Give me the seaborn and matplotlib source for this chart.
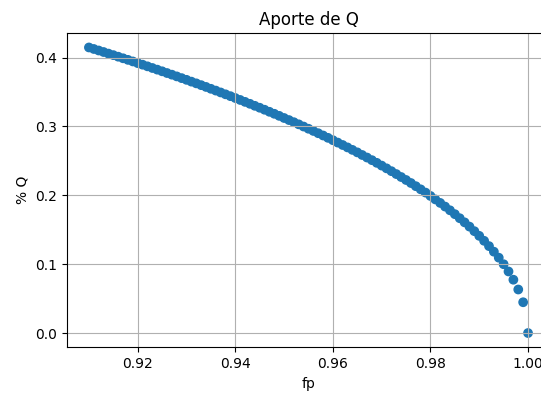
import matplotlib
matplotlib.use("Agg")
import matplotlib.pyplot as plt
import seaborn as sns
import pandas as pd

# Power factor values (x axis)
fp = [
    0.910, 0.911, 0.912, 0.913, 0.914, 0.915, 0.916, 0.917, 0.918, 0.919,
    0.920, 0.921, 0.922, 0.923, 0.924, 0.925, 0.926, 0.927, 0.928, 0.929,
    0.930, 0.931, 0.932, 0.933, 0.934, 0.935, 0.936, 0.937, 0.938, 0.939,
    0.940, 0.941, 0.942, 0.943, 0.944, 0.945, 0.946, 0.947, 0.948, 0.949,
    0.950, 0.951, 0.952, 0.953, 0.954, 0.955, 0.956, 0.957, 0.958, 0.959,
    0.960, 0.961, 0.962, 0.963, 0.964, 0.965, 0.966, 0.967, 0.968, 0.969,
    0.970, 0.971, 0.972, 0.973, 0.974, 0.975, 0.976, 0.977, 0.978, 0.979,
    0.980, 0.981, 0.982, 0.983, 0.984, 0.985, 0.986, 0.987, 0.988, 0.989,
    0.990, 0.991, 0.992, 0.993, 0.994, 0.995, 0.996, 0.997, 0.998, 0.999,
    1.000,
]

# Reactive share for each power factor
q_pct = [
    0.4146, 0.4124, 0.4102, 0.4080, 0.4057, 0.4035, 0.4012, 0.3989, 0.3966, 0.3943,
    0.3919, 0.3896, 0.3872, 0.3848, 0.3824, 0.3800, 0.3775, 0.3751, 0.3726, 0.3701,
    0.3676, 0.3650, 0.3625, 0.3599, 0.3573, 0.3546, 0.3520, 0.3493, 0.3466, 0.3439,
    0.3412, 0.3384, 0.3356, 0.3328, 0.3299, 0.3271, 0.3242, 0.3212, 0.3183, 0.3153,
    0.3122, 0.3092, 0.3061, 0.3030, 0.2998, 0.2966, 0.2934, 0.2901, 0.2868, 0.2834,
    0.2800, 0.2765, 0.2730, 0.2695, 0.2659, 0.2623, 0.2585, 0.2548, 0.2510, 0.2471,
    0.2431, 0.2391, 0.2350, 0.2308, 0.2265, 0.2222, 0.2178, 0.2132, 0.2086, 0.2039,
    0.1990, 0.1940, 0.1889, 0.1836, 0.1782, 0.1726, 0.1667, 0.1607, 0.1545, 0.1479,
    0.1411, 0.1339, 0.1262, 0.1181, 0.1094, 0.0999, 0.0894, 0.0774, 0.0632, 0.0447,
    0.0000,
]

df = pd.DataFrame({"fp": fp, "% Q": q_pct})
dot_color = "#1f77b4"

fig = plt.figure(figsize=(5.41, 3.93), dpi=100)
ax = fig.add_axes([0.1238, 0.1163, 0.8928, 0.7992])

sns.scatterplot(data=df, x="fp", y="% Q", ax=ax, s=36,
                color=dot_color, edgecolor="face", linewidth=1.0, zorder=1)
# per-point colours so each marker is drawn at its exact sub-pixel position
for coll in ax.collections:
    coll.set_snap(False)
    coll.set_facecolor([dot_color] * len(df))
    coll.set_edgecolor([dot_color] * len(df))

ax.set_title("Aporte de Q", fontsize=12)
ax.set_xlabel("fp")
ax.set_ylabel("% Q")
ax.set_xticks([0.92, 0.94, 0.96, 0.98, 1.00])
ax.set_yticks([0.0, 0.1, 0.2, 0.3, 0.4])
ax.set_xlim(0.9055, 1.0045)
ax.set_ylim(-0.0207, 0.4353)
ax.set_axisbelow("line")
ax.grid(True)

fig.savefig("out.png", dpi=100)
